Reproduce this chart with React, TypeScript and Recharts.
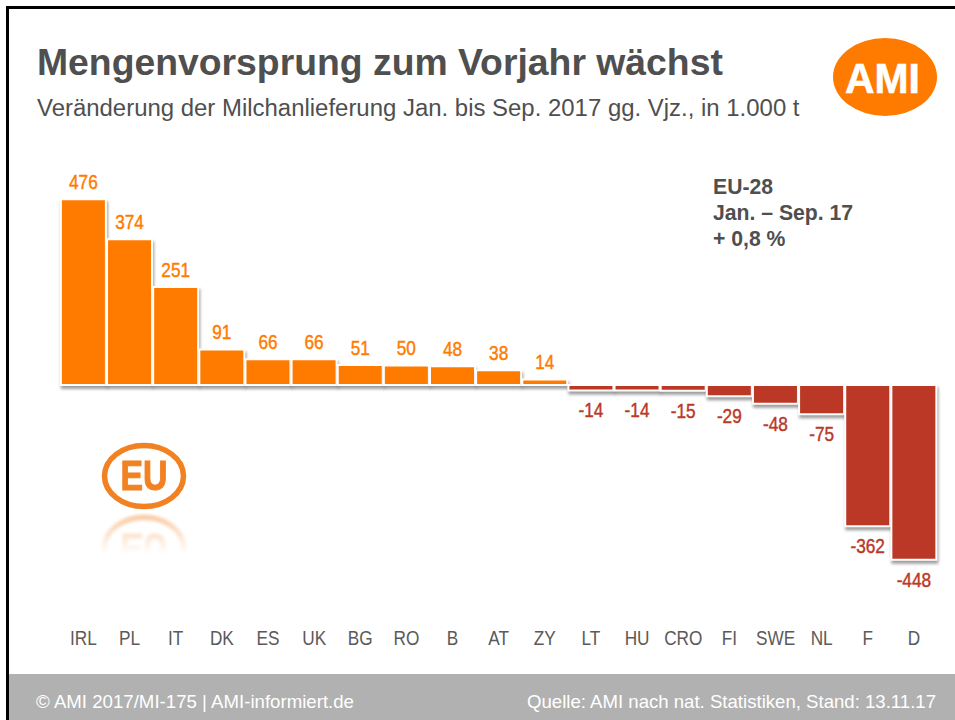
import React from "react";
import { BarChart, Bar, XAxis, YAxis, LabelList, Rectangle } from "recharts";

const categories = ["IRL","PL","IT","DK","ES","UK","BG","RO","B","AT","ZY","LT","HU","CRO","FI","SWE","NL","F","D"];
const values = [476,374,251,91,66,66,51,50,48,38,14,-14,-14,-15,-29,-48,-75,-362,-448];
const rows = categories.map((name, i) => ({ name, value: values[i] }));

const ORANGE = "#ff7b00";
const RED = "#bb3726";
const GREY = "#4f4f4f";
const SANS = '"Liberation Sans", Arial, sans-serif';
const infoLines = ["EU-28", "Jan. – Sep. 17", "+ 0,8 %"];

const BarShape = (p: any) => (
  <Rectangle
    x={p.x}
    y={p.y}
    width={p.width}
    height={p.height}
    fill={p.payload.value < 0 ? RED : ORANGE}
    stroke="#ffffff"
    strokeWidth={2}
    style={{ filter: "drop-shadow(1px 3px 1.5px rgba(0,0,0,0.38))" }}
  />
);

const ValueLabel = (p: any) => {
  const { x, y, width, height, value } = p;
  const top = Math.min(y, y + height);
  const bottom = Math.max(y, y + height);
  const neg = value < 0;
  const color = neg ? RED : ORANGE;
  return (
    <text
      transform={`translate(${x + width / 2},${neg ? bottom + 27 : top - 10.5}) scale(0.82,1)`}
      textAnchor="middle"
      fontFamily={SANS}
      fontSize={21}
      stroke={color}
      strokeWidth={0.45}
      fill={color}
    >
      {value}
    </text>
  );
};

const CategoryTick = (p: any) => (
  <text
    transform={`translate(${p.x},${p.y + 15}) scale(0.82,1)`}
    textAnchor="middle"
    fontFamily={SANS}
    fontSize={21}
    fill="#5a5a5a"
  >
    {p.payload.value}
  </text>
);

const EuMark = () => (
  <>
    <ellipse cx={144} cy={476} rx={39.5} ry={30.5} fill="none" stroke="#f28124" strokeWidth={5.5} />
    <text x={144} y={490} textAnchor="middle" fontFamily={SANS} fontWeight={700} fontSize={42} fill="#f28124" stroke="#f28124" strokeWidth={1} textLength={47} lengthAdjust="spacingAndGlyphs">EU</text>
  </>
);

export default function App() {
  return (
    <div style={{ position: "fixed", left: 0, top: 0, width: 955, height: 720, background: "#fff", overflow: "hidden", fontFamily: SANS }}>
      <div style={{ position: "absolute", left: 6, top: 6, width: 949, height: 3, background: "#000" }} />
      <div style={{ position: "absolute", left: 6, top: 6, width: 3, height: 714, background: "#000" }} />
      <div style={{ position: "absolute", left: 9, top: 674, width: 946, height: 46, background: "#b1b1b1" }} />

      <div style={{ position: "absolute", left: 37, top: 41, fontSize: 37.35, fontWeight: 700, color: GREY, whiteSpace: "nowrap", lineHeight: "42px" }}>
        Mengenvorsprung zum Vorjahr wächst
      </div>
      <div style={{ position: "absolute", left: 37, top: 94, fontSize: 23.95, color: GREY, whiteSpace: "nowrap", lineHeight: "28px" }}>
        Veränderung der Milchanlieferung Jan. bis Sep. 2017 gg. Vjz., in 1.000 t
      </div>

      <div style={{ position: "absolute", left: 0, top: 0 }}>
        <BarChart
          width={955}
          height={720}
          data={rows}
          margin={{ top: 190, right: 18, bottom: 80, left: 60.4 }}
          barCategoryGap={0.5}
        >
          <XAxis
            dataKey="name"
            axisLine={false}
            tickLine={false}
            height={60}
            interval={0}
            tickMargin={44}
            tick={CategoryTick}
          />
          <YAxis hide domain={[-500, 500]} width={0} />
          <Bar dataKey="value" isAnimationActive={false} shape={BarShape}>
            <LabelList dataKey="value" content={ValueLabel} />
          </Bar>
        </BarChart>
      </div>

      <div style={{ position: "absolute", left: 713, top: 174, fontSize: 21.2, fontWeight: 700, color: GREY, lineHeight: "26px", whiteSpace: "nowrap" }}>
        {infoLines.map((l) => <div key={l}>{l}</div>)}
      </div>

      <svg width={955} height={720} style={{ position: "absolute", left: 0, top: 0, pointerEvents: "none" }}>
        <defs>
          <linearGradient id="fade" x1="0" y1="0" x2="0" y2="1">
            <stop offset="0" stopColor="#fff" stopOpacity={0.45} />
            <stop offset="1" stopColor="#fff" stopOpacity={0} />
          </linearGradient>
          <mask id="fadeMask" maskUnits="userSpaceOnUse" x="90" y="510" width="110" height="50">
            <rect x="90" y="512" width="110" height="42" fill="url(#fade)" />
          </mask>
          <filter id="soft"><feGaussianBlur stdDeviation="0.6" /></filter>
          <filter id="softer"><feGaussianBlur stdDeviation="1.6" /></filter>
        </defs>
        <ellipse cx={885} cy={77} rx={52} ry={39} fill={ORANGE} />
        <text x={882.5} y={92.5} textAnchor="middle" fontFamily={SANS} fontWeight={700} fontSize={42} fill="#fff" stroke="#fff" strokeWidth={0.6} textLength={75} lengthAdjust="spacingAndGlyphs">AMI</text>

        <g filter="url(#soft)"><EuMark /></g>
        <g mask="url(#fadeMask)">
          <g filter="url(#softer)" transform="matrix(1 0 0 -1 0 1024)"><EuMark /></g>
        </g>
      </svg>

      <div style={{ position: "absolute", left: 36, top: 690, fontSize: 18.65, color: "#fff", whiteSpace: "nowrap", lineHeight: "24px" }}>
        © AMI 2017/MI-175 | AMI-informiert.de
      </div>
      <div style={{ position: "absolute", right: 19, top: 690, fontSize: 18.6, color: "#fff", whiteSpace: "nowrap", lineHeight: "24px" }}>
        Quelle: AMI nach nat. Statistiken, Stand: 13.11.17
      </div>
    </div>
  );
}
